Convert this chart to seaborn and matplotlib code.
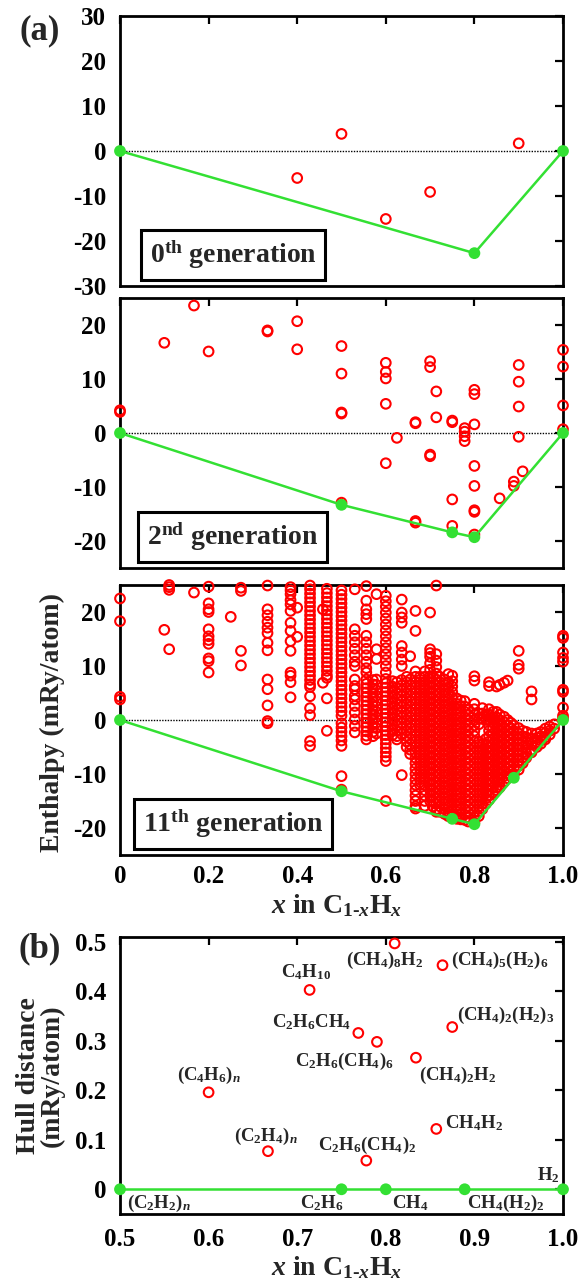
import numpy as np
import pandas as pd
import matplotlib
matplotlib.use("Agg")
import matplotlib.pyplot as plt
import seaborn as sns

# ---- data ----
# 0th generation: random structures (x, enthalpy in mRy/atom)
gen0_points = [(0.4, -6.0), (0.5, 3.8), (0.6, -15.1), (0.7, -9.1), (0.9, 1.7)]
gen0_hull_x = [0.0, 0.8, 1.0]
gen0_hull_y = [0.0, -22.7, 0.0]

# 2nd generation
gen2_points = [
    (0.0, 4.2), (0.0, 3.9), (0.1, 16.7), (0.167, 23.6), (0.2, 15.1),
    (0.333, 19.0), (0.333, 18.8), (0.4, 20.7), (0.4, 15.5),
    (0.5, 16.1), (0.5, 11.0), (0.5, 3.8), (0.5, 3.6), (0.5, -12.9),
    (0.6, 13.0), (0.6, 11.3), (0.6, 10.1), (0.6, 5.4), (0.6, -5.6),
    (0.625, -0.9), (0.667, 2.0), (0.667, 1.8), (0.667, -16.3), (0.667, -16.6),
    (0.7, 13.3), (0.7, 12.2), (0.7, -4.0), (0.7, -4.3), (0.714, 7.7), (0.714, 2.9),
    (0.75, 2.3), (0.75, 2.0), (0.75, -12.3), (0.75, -17.2),
    (0.778, 0.9), (0.778, 0.25), (0.778, -0.6), (0.778, -1.5),
    (0.8, 8.0), (0.8, 7.2), (0.8, 1.6), (0.8, -6.1), (0.8, -9.8), (0.8, -14.3),
    (0.8, -14.6), (0.8, -18.8), (0.857, -12.1), (0.889, -9.0), (0.889, -9.8),
    (0.9, 12.6), (0.9, 9.5), (0.9, 4.9), (0.9, -0.7), (0.909, -7.1),
    (1.0, 15.4), (1.0, 12.3), (1.0, 5.1), (1.0, 0.7),
]
gen2_hull_x = [0.0, 0.5, 0.75, 0.8, 1.0]
gen2_hull_y = [0.0, -13.3, -18.4, -19.3, 0.0]

# 11th generation, stored as (composition, enthalpies stacked at that composition)
gen11_low = [
    (0.0, [22.5, 18.3, 4.3, 3.8]),
    (0.1, [16.7]),
    (0.111, [25.0, 24.6, 24.1, 13.1]),
    (0.167, [23.6]),
    (0.2, [24.7, 21.6, 20.5, 20.0, 16.8, 15.5, 14.8, 14.1, 11.4, 10.9, 8.8]),
    (0.25, [19.1]),
    (0.273, [24.5, 23.9, 12.8, 10.1]),
    (0.333, [24.9, 20.5, 19.4, 18.2, 17.1, 16.1, 14.3, 12.9, 7.5, 5.7, 2.7, -0.2, -0.6]),
    (0.385, [24.6, 24.0, 23.3, 22.2, 21.4, 20.2, 18.0, 16.5, 14.6, 12.8, 8.8, 8.2, 7.0, 4.2]),
    (0.4, [20.8, 15.4]),
    (0.429, [24.9, 24.2, 23.4, 22.6, 21.8, 21.0, 20.2, 19.4, 18.6, 17.8, 17.0, 16.2,
             15.4, 14.6, 13.8, 13.0, 12.2, 11.4, 10.6, 9.8, 9.0, 8.2, 7.4, 6.6, 6.1,
             4.4, 2.2, 0.9, -3.9, -4.8]),
    (0.458, [20.5, 6.9]),
    (0.467, [24.3, 23.5, 22.7, 21.9, 21.1, 20.3, 19.5, 18.7, 17.9, 17.1, 16.3, 15.5,
             14.7, 13.9, 13.1, 12.3, 11.5, 10.7, 9.9, 9.1, 8.3, 7.8, 4.0, -2.0]),
]
gen11_mid = [
    (0.5, [24.0, 23.2, 22.4, 21.6, 20.8, 20.0, 19.2, 18.4, 17.6, 16.8, 16.0, 15.2,
           14.4, 13.6, 12.8, 12.0, 11.2, 10.4, 9.6, 8.8, 8.0, 7.2, 6.4, 5.6, 4.8, 4.0,
           3.2, 2.4, 1.6, 0.8, -0.6, -1.4, -2.2, -3.0, -3.8, -4.8, -10.4, -12.9]),
    (0.53, [24.2, 16.8, 15.6, 14.4, 13.2, 12.0, 10.8, 10.0, 7.5, 6.3, 5.7, 4.5, 3.8,
            2.6, 1.4, 0.1, -1.1, -2.3]),
    (0.556, [24.8, 22.1, 20.5, 19.6, 18.7, 15.6, 14.4, 13.2, 12.0, 10.8, 9.6, 8.8, 7.5,
             6.7, 5.9, 5.1, 4.3, 3.5, 2.7, 1.9, 1.1, 0.3, -0.5, -1.3, -2.1, -2.9, -3.6]),
    (0.571, [7.4, 6.6, 5.8, 5.0, 4.2, 3.4, 2.6, 1.8, 1.0, 0.2, -0.6, -1.4, -2.2, -3.0]),
    (0.579, [23.3, 13.1, 11.3, 7.5, 6.5, 5.5, 4.5, 3.5, 2.5, 1.5, 0.5, -0.5, -1.5, -2.5]),
    (0.6, [23.0, 22.0, 21.0, 19.9, 18.8, 17.7, 16.6, 15.5, 14.4, 13.3, 12.2, 11.1, 10.0,
           8.8, 7.6, 6.8, 6.0, 5.2, 4.4, 3.6, 2.8, 2.0, 1.2, 0.4, -0.4, -1.2, -2.0, -2.8,
           -3.6, -4.4, -5.2, -6.0, -6.8, -7.6, -15.0]),
    (0.615, [7.2, 6.2, 5.2, 4.2, 3.2, 2.2, 1.2, 0.2, -0.8, -1.8, -2.8]),
    (0.625, [7.0, 6.0, 5.0, 4.0, 3.0, 2.0, 1.0, 0.0, -1.0, -2.0, -3.0, -3.6]),
    (0.636, [22.3, 19.9, 19.0, 18.0, 13.7, 12.5, 11.2, 10.0, 7.4, 6.4, 5.4, 4.4, 3.4,
             2.4, 1.4, 0.4, -0.6, -1.6, -2.6, -10.2]),
    (0.647, [8.0, 7.0, 6.0, 5.0, 4.0, 3.0, 2.0, 1.0, 0.0, -1.0, -2.0, -3.0, -4.0, -5.0]),
    (0.655, [11.8, 7.5, 6.5, 5.5, 4.5, 3.5, 2.5, 1.5, 0.5, -0.5, -1.5, -2.5, -3.5, -4.5,
             -5.5, -6.3]),
]
gen11_blob = [
    (0.667, [20.2, 16.5, 9.0, 8.0, 7.0, 6.0, 5.0, 4.0, 3.0, 2.0, 1.0, 0.0, -1.0, -2.0,
             -3.0, -4.0, -5.0, -6.0, -7.0, -8.0, -9.0, -10.0, -11.0, -12.0, -13.0,
             -14.0, -15.0, -16.0, -16.4]),
    (0.677, [8.0, 7.0, 6.0, 5.0, 4.0, 3.0, 2.0, 1.0, 0.0, -1.0, -2.0, -3.0, -4.0, -5.0,
             -6.0, -7.0, -8.0, -9.0, -10.0, -11.0, -12.0]),
    (0.688, [9.0, 8.0, 7.0, 6.0, 5.0, 4.0, 3.0, 2.0, 1.0, 0.0, -1.0, -2.0, -3.0, -4.0,
             -5.0, -6.0, -7.0, -8.0, -9.0, -10.0, -11.0, -12.0, -13.0, -14.0, -15.0, -15.9]),
    (0.7, [19.9, 13.1, 12.4, 11.7, 10.5, 9.3, 8.1, 7.0, 6.0, 5.0, 4.0, 3.0, 2.0, 1.0,
           0.0, -1.0, -2.0, -3.0, -4.0, -5.0, -6.0, -7.0, -8.0, -9.0, -10.0, -11.0,
           -12.0, -13.0, -14.0, -15.0]),
    (0.706, [8.0, 7.0, 6.0, 5.0, 4.0, 3.0, 2.0, 1.0, 0.0, -1.0, -2.0, -3.0, -4.0, -5.0,
             -6.0, -7.0, -8.0, -9.0, -10.0, -11.0, -12.0, -13.0, -14.0, -15.0, -16.0]),
    (0.714, [24.9, 12.2, 11.0, 9.8, 8.6, 7.5, 6.5, 5.5, 4.5, 3.5, 2.5, 1.5, 0.5, -0.5,
             -1.5, -2.5, -3.5, -4.5, -5.5, -6.5, -7.5, -8.5, -9.5, -10.5, -11.5, -12.5,
             -13.5, -14.5, -15.5, -16.5, -17.0]),
    (0.722, [8.0, 7.0, 6.0, 5.0, 4.0, 3.0, 2.0, 1.0, 0.0, -1.0, -2.0, -3.0, -4.0, -5.0,
             -6.0, -7.0, -8.0, -9.0, -10.0, -11.0, -12.0, -13.0, -14.0, -15.0, -16.0, -17.0]),
    (0.733, [7.5, 6.5, 5.5, 4.5, 3.5, 2.5, 1.5, 0.5, -0.5, -1.5, -2.5, -3.5, -4.5, -5.5,
             -6.5, -7.5, -8.5, -9.5, -10.5, -11.5, -12.5, -13.5, -14.5, -15.5, -16.5, -17.4]),
    (0.741, [8.5, 7.0, 6.0, 5.0, 4.0, 3.0, 2.0, 1.0, 0.0, -1.0, -2.0, -3.0, -4.0, -5.0,
             -6.0, -7.0, -8.0, -9.0, -10.0, -11.0, -12.0, -13.0, -14.0, -15.0, -16.0,
             -17.0, -17.8]),
    (0.75, [8.2, 7.2, 6.2, 5.2, 4.2, 3.2, 2.2, 1.2, 0.2, -0.8, -1.8, -2.8, -3.8, -4.8,
            -5.8, -6.8, -7.8, -8.8, -9.8, -10.8, -11.8, -12.8, -13.8, -14.8, -15.8,
            -16.8, -17.8]),
    (0.76, [4.0, 3.0, 2.0, 1.0, 0.0, -1.0, -2.0, -3.0, -4.0, -5.0, -6.0, -7.0, -8.0,
            -9.0, -10.0, -11.0, -12.0, -13.0, -14.0, -15.0, -16.0, -17.0, -18.0, -18.3]),
    (0.769, [3.6, 2.6, 1.6, 0.6, -0.4, -1.4, -2.4, -3.4, -4.4, -5.4, -6.4, -7.4, -8.4,
             -9.4, -10.4, -11.4, -12.4, -13.4, -14.4, -15.4, -16.4, -17.4, -18.4]),
    (0.778, [3.5, 2.5, 1.5, 0.5, -0.5, -1.5, -2.5, -3.5, -4.5, -5.5, -6.5, -7.5, -8.5,
             -9.5, -10.5, -11.5, -12.5, -13.5, -14.5, -15.5, -16.5, -17.5, -18.5]),
    (0.786, [2.0, 1.0, 0.0, -1.0, -2.0, -3.0, -4.0, -5.0, -6.0, -7.0, -8.0, -9.0, -10.0,
             -11.0, -12.0, -13.0, -14.0, -15.0, -16.0, -17.0, -18.0, -18.8]),
    (0.8, [8.1, 7.3, 3.0, 2.0, 1.0, 0.0, -1.0, -2.0, -3.0, -4.0, -5.0, -6.0, -7.0, -8.0,
           -9.0, -10.0, -11.0, -12.0, -13.0, -14.0, -15.0, -16.0, -17.0, -18.0, -19.0]),
]
gen11_right = [
    (0.81, [1.2, 0.2, -0.8, -4.0, -5.0, -6.0, -7.0, -8.0, -9.0, -10.0, -11.0, -12.0,
            -13.0, -14.0, -15.0, -16.0, -17.0, -17.8]),
    (0.818, [2.2, 1.2, 0.2, -4.5, -5.5, -6.5, -7.5, -8.5, -9.5, -10.5, -11.5, -12.5,
             -13.5, -14.5, -15.5, -16.5]),
    (0.826, [1.0, 0.0, -3.5, -4.5, -5.5, -6.5, -7.5, -8.5, -9.5, -10.5, -11.5, -12.5,
             -13.5, -14.5, -15.5]),
    (0.833, [7.0, 6.3, 2.0, 1.0, 0.0, -1.0, -2.0, -3.0, -4.0, -5.0, -6.0, -7.0, -8.0,
             -9.0, -10.0, -11.0, -12.0, -13.0, -14.0, -14.8]),
    (0.842, [1.5, 0.5, -0.5, -1.5, -2.5, -3.5, -4.5, -5.5, -6.5, -7.5, -8.5, -9.5,
             -10.5, -11.5, -12.5, -13.5]),
    (0.85, [6.2, 1.5, 0.5, -0.5, -1.5, -2.5, -3.5, -4.5, -5.5, -6.5, -7.5, -8.5, -9.5,
            -10.5, -11.5, -12.5, -13.0]),
    (0.857, [6.5, 1.0, 0.0, -1.0, -2.0, -3.0, -4.0, -5.0, -6.0, -7.0, -8.0, -9.0,
             -10.0, -11.0, -12.0, -12.5]),
    (0.867, [6.9, 0.6, -0.4, -1.4, -2.4, -3.4, -4.4, -5.4, -6.4, -7.4, -8.4, -9.4,
             -10.4, -11.4]),
    (0.875, [7.3, 0.0, -1.0, -2.0, -3.0, -4.0, -5.0, -6.0, -7.0, -8.0, -9.0, -10.0, -10.8]),
    (0.882, [-0.5, -1.5, -2.5, -3.5, -4.5, -5.5, -6.5, -7.5, -8.5, -9.5, -10.3]),
    (0.889, [-1.0, -2.0, -3.0, -4.0, -5.0, -6.0, -7.0, -8.0, -9.0, -10.0]),
    (0.9, [12.8, 10.2, 9.5, -1.5, -2.5, -3.5, -4.5, -5.5, -6.5, -7.5, -8.5, -9.2]),
    (0.909, [-2.0, -3.0, -4.0, -5.0, -6.0, -7.0, -8.0]),
    (0.917, [-2.2, -3.2, -4.2, -5.2, -6.2, -7.0]),
    (0.929, [5.3, 3.8, -2.5, -3.5, -4.5, -5.5, -6.0]),
    (0.941, [-2.5, -3.3, -4.1, -5.0]),
    (0.95, [-2.2, -3.0, -3.8, -4.4]),
    (0.96, [-1.6, -2.4, -3.2, -3.6]),
    (0.97, [-1.2, -2.0, -2.7]),
    (0.98, [-0.8, -1.6]),
    (1.0, [15.6, 15.2, 12.5, 11.5, 10.8, 5.6, 5.2, 2.3, 0.8, 0.3]),
]
gen11_hull_x = [0.0, 0.5, 0.75, 0.8, 0.889, 1.0]
gen11_hull_y = [0.0, -13.2, -18.3, -19.3, -10.7, 0.0]

# (b) distance from the hull (mRy/atom)
b_names = ["(C$_4$H$_6$)$_{n}$", "(C$_2$H$_4$)$_{n}$", "C$_4$H$_{10}$", "C$_2$H$_6$CH$_4$",
           "C$_2$H$_6$(CH$_4$)$_6$", "(CH$_4$)$_8$H$_2$", "(CH$_4$)$_5$(H$_2$)$_6$",
           "(CH$_4$)$_2$(H$_2$)$_3$", "(CH$_4$)$_2$H$_2$", "CH$_4$H$_2$", "C$_2$H$_6$(CH$_4$)$_2$"]
b_x = [0.6, 0.667, 0.714, 0.769, 0.79, 0.81, 0.864, 0.875, 0.834, 0.857, 0.778]
b_y = [0.196, 0.077, 0.403, 0.316, 0.298, 0.497, 0.453, 0.328, 0.266, 0.122, 0.058]
b_hull_names = ["(C$_2$H$_2$)$_{n}$", "C$_2$H$_6$", "CH$_4$", "CH$_4$(H$_2$)$_2$", "H$_2$"]
b_hull_x = [0.5, 0.75, 0.8, 0.889, 1.0]
b_hull_y = [0.0, 0.0, 0.0, 0.0, 0.0]

generation_labels = ["0$^{\\rm th}$ generation", "2$^{\\rm nd}$ generation", "11$^{\\rm th}$ generation"]


def expand(columns):
    rows = [(x, y) for x, ys in columns for y in ys]
    return pd.DataFrame(rows, columns=["x", "H"])


df0 = pd.DataFrame(gen0_points, columns=["x", "H"])
df2 = pd.DataFrame(gen2_points, columns=["x", "H"])
df11 = pd.concat([expand(gen11_low), expand(gen11_mid), expand(gen11_blob), expand(gen11_right)])

# ---- style ----
sns.set_style("white")
plt.rcParams["font.family"] = ["Liberation Serif", "DejaVu Serif"]
plt.rcParams["font.weight"] = "bold"
plt.rcParams["axes.labelweight"] = "bold"
plt.rcParams["axes.unicode_minus"] = False
plt.rcParams["mathtext.fontset"] = "custom"
plt.rcParams["mathtext.rm"] = "Liberation Serif:bold"
plt.rcParams["mathtext.bf"] = "Liberation Serif:bold"
plt.rcParams["mathtext.it"] = "Liberation Serif:italic:bold"

RED = "#ff0000"
GREEN = "#33e033"
W, H = 582, 1281
TICK_FS = 18
LABEL_FS = 20

fig = plt.figure(figsize=(W / 100, H / 100), dpi=100)


def px_axes(left, top, right, bottom):
    return fig.add_axes([left / W, 1 - bottom / H, (right - left) / W, (bottom - top) / H])


def style_axes(ax, xpad=7):
    for s in ax.spines.values():
        s.set_linewidth(2.0)
        s.set_color("black")
    ax.tick_params(direction="in", top=True, right=True, length=6, width=1.6,
                   labelsize=TICK_FS, colors="black")
    ax.tick_params(axis="y", pad=10)
    ax.tick_params(axis="x", pad=xpad)


def draw_gen(ax, df, hx, hy, label, ylim, yticks):
    sns.scatterplot(data=df, x="x", y="H", ax=ax, s=48, facecolor="none",
                    edgecolor=RED, linewidth=1.5, clip_on=False, zorder=3)
    ax.axhline(0, color="black", ls=(0, (1, 1)), lw=1.0, zorder=2)
    sns.lineplot(x=hx, y=hy, ax=ax, sort=False, estimator=None, color=GREEN, lw=1.8, zorder=4)
    ax.scatter(hx, hy, s=72, color=GREEN, zorder=5, clip_on=False, edgecolors="none")
    ax.set_xlim(0, 1)
    ax.set_ylim(*ylim)
    ax.set_xticks([0, 0.2, 0.4, 0.6, 0.8, 1.0])
    ax.set_yticks(yticks)
    ax.set_yticklabels([str(t) for t in yticks])
    ax.set_xlabel("")
    ax.set_ylabel("")
    style_axes(ax)
    ax.text(0.255, 0.115, label, transform=ax.transAxes, ha="center", va="center",
            fontsize=20, zorder=6,
            bbox=dict(boxstyle="square,pad=0.32", fc="white", ec="black", lw=2.2))


ax1 = px_axes(120, 16, 563, 286)
ax2 = px_axes(120, 298, 563, 568)
ax3 = px_axes(120, 585, 563, 855)
axb = px_axes(120, 937, 563, 1214)

draw_gen(ax1, df0, gen0_hull_x, gen0_hull_y, generation_labels[0], (-30, 30),
         [-30, -20, -10, 0, 10, 20, 30])
draw_gen(ax2, df2, gen2_hull_x, gen2_hull_y, generation_labels[1], (-25, 25),
         [-20, -10, 0, 10, 20])
draw_gen(ax3, df11, gen11_hull_x, gen11_hull_y, generation_labels[2], (-25, 25),
         [-20, -10, 0, 10, 20])
for ax in (ax1, ax2):
    ax.set_xticklabels([])
ax3.set_xticklabels(["0", "0.2", "0.4", "0.6", "0.8", "1.0"])
ax3.set_ylabel("Enthalpy (mRy/atom)", fontsize=LABEL_FS)
ax3.yaxis.set_label_coords(-0.124, 0.49)
ax3.set_xlabel("$x$ in C$_{1\\text{-}x}$H$_x$", fontsize=LABEL_FS)
ax3.xaxis.set_label_coords(0.49, -0.138)

# ---- (b) ----
sns.scatterplot(x=b_x, y=b_y, ax=axb, s=48, facecolor="none", edgecolor=RED,
                linewidth=1.5, zorder=3)
sns.lineplot(x=b_hull_x, y=b_hull_y, ax=axb, sort=False, estimator=None, color=GREEN,
             lw=1.8, zorder=4)
axb.scatter(b_hull_x, b_hull_y, s=72, color=GREEN, zorder=5, clip_on=False, edgecolors="none")
axb.set_xlim(0.5, 1.0)
axb.set_ylim(-0.05, 0.51)
axb.set_xticks([0.5, 0.6, 0.7, 0.8, 0.9, 1.0])
axb.set_xticklabels(["0.5", "0.6", "0.7", "0.8", "0.9", "1.0"])
axb.set_yticks([0, 0.1, 0.2, 0.3, 0.4, 0.5])
axb.set_yticklabels(["0", "0.1", "0.2", "0.3", "0.4", "0.5"])
style_axes(axb, xpad=10)
axb.set_ylabel("Hull distance\n(mRy/atom)", fontsize=LABEL_FS, linespacing=0.95)
axb.yaxis.set_label_coords(-0.124, 0.5)
axb.set_xlabel("$x$ in C$_{1\\text{-}x}$H$_x$", fontsize=LABEL_FS)
axb.xaxis.set_label_coords(0.49, -0.145)

# label placement (data coords) for each named structure
b_label_pos = [(0.6, 0.231, "center"), (0.665, 0.106, "center"), (0.71, 0.439, "center"),
               (0.761, 0.338, "right"), (0.753, 0.258, "center"), (0.799, 0.463, "center"),
               (0.874, 0.463, "left"), (0.880, 0.352, "left"), (0.837, 0.231, "left"),
               (0.867, 0.133, "left"), (0.779, 0.088, "center")]
for name, (lx, ly, ha) in zip(b_names, b_label_pos):
    axb.text(lx, ly, name, ha=ha, va="center", fontsize=13.5)
b_hull_label_pos = [(0.508, -0.028, "left"), (0.728, -0.028, "center"),
                    (0.807, -0.028, "left"), (0.892, -0.028, "left"), (0.996, 0.029, "right")]
for name, (lx, ly, ha) in zip(b_hull_names, b_hull_label_pos):
    axb.text(lx, ly, name, ha=ha, va="center", fontsize=13.5)

fig.text(40 / W, 1 - 31 / H, "(a)", fontsize=25, ha="center", va="center")
fig.text(40 / W, 1 - 949 / H, "(b)", fontsize=25, ha="center", va="center")

fig.savefig("out.png", dpi=100)
